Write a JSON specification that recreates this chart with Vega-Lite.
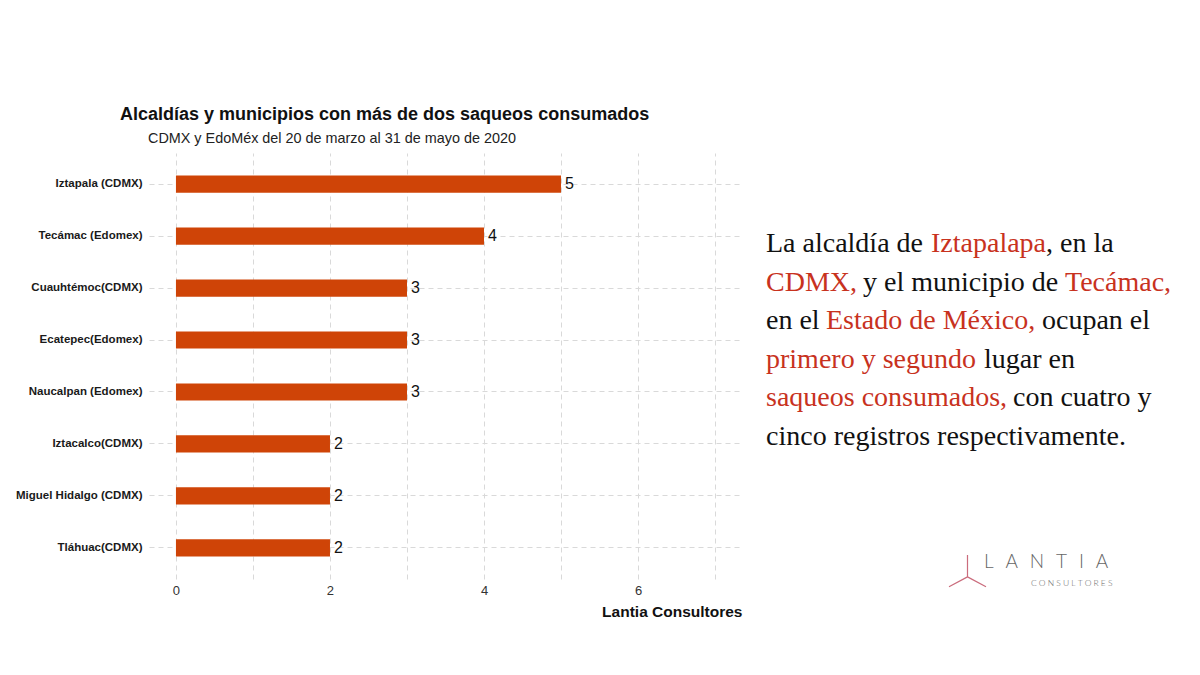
{
  "$schema": "https://vega.github.io/schema/vega-lite/v6.json",
  "background": "white",
  "padding": {"left": 15, "top": 105, "right": 0, "bottom": 0},
  "config": {
    "view": {"stroke": null},
    "font": "Liberation Sans"
  },
  "spacing": 20,
  "hconcat": [
    {
      "width": 593,
      "height": 426,
      "title": {
        "text": "Alcaldías y municipios con más de dos saqueos consumados",
        "subtitle": "\u200b\u00a0\u00a0\u00a0\u00a0\u00a0\u00a0\u00a0CDMX y EdoMéx del 20 de marzo al 31 de mayo de 2020",
        "anchor": "start",
        "frame": "group",
        "dx": -29,
        "fontSize": 18,
        "fontWeight": "bold",
        "color": "#111",
        "subtitleFontSize": 14.4,
        "subtitleColor": "#222",
        "subtitlePadding": 8,
        "offset": 8
      },
      "data": {
        "values": [
          {"lugar": "Iztapala (CDMX)", "saqueos": 5},
          {"lugar": "Tecámac (Edomex)", "saqueos": 4},
          {"lugar": "Cuauhtémoc(CDMX)", "saqueos": 3},
          {"lugar": "Ecatepec(Edomex)", "saqueos": 3},
          {"lugar": "Naucalpan (Edomex)", "saqueos": 3},
          {"lugar": "Iztacalco(CDMX)", "saqueos": 2},
          {"lugar": "Miguel Hidalgo (CDMX)", "saqueos": 2},
          {"lugar": "Tláhuac(CDMX)", "saqueos": 2}
        ]
      },
      "encoding": {
        "y": {
          "field": "lugar",
          "type": "nominal",
          "sort": null,
          "scale": {"paddingInner": 0, "paddingOuter": 0.1},
          "axis": {
            "title": null,
            "bandPosition": 0.5,
            "ticks": false,
            "domain": false,
            "labelFontSize": 11.5,
            "labelFontWeight": "bold",
            "labelColor": "#1a1a1a",
            "labelPadding": 7,
            "grid": true,
            "gridColor": "#d9d9d9",
            "gridDash": [5, 4]
          }
        },
        "x": {
          "field": "saqueos",
          "type": "quantitative",
          "scale": {"domain": [-0.35, 7.35], "nice": false, "zero": false},
          "axis": {
            "title": "Lantia Consultores",
            "titleAnchor": "end",
            "titleFontSize": 15.5,
            "titleFontWeight": "bold",
            "titleColor": "#111",
            "titlePadding": 7,
            "values": [0, 1, 2, 3, 4, 5, 6, 7],
            "labelExpr": "datum.value % 2 == 0 ? datum.label : ''",
            "labelFontSize": 13,
            "labelColor": "#333",
            "labelPadding": 5,
            "ticks": false,
            "domain": false,
            "grid": true,
            "gridColor": "#d9d9d9",
            "gridDash": [5, 4]
          }
        }
      },
      "layer": [
        {
          "mark": {"type": "bar", "color": "#CF4407", "height": {"band": 0.33}}
        },
        {
          "mark": {"type": "text", "align": "left", "baseline": "middle", "dx": 4, "fontSize": 16, "color": "#111"},
          "encoding": {"text": {"field": "saqueos", "type": "quantitative"}}
        }
      ]
    },
    {
      "width": 420,
      "height": 460,
      "layer": [
        {
          "data": {
            "values": [
              {"fila": 1, "x": 4, "texto": "La alcaldía de", "tipo": "normal"},
              {"fila": 1, "x": 169, "texto": "Iztapalapa", "tipo": "resaltado"},
              {"fila": 1, "x": 284, "texto": ", en la", "tipo": "normal"},
              {"fila": 2, "x": 4, "texto": "CDMX,", "tipo": "resaltado"},
              {"fila": 2, "x": 101, "texto": "y el municipio de", "tipo": "normal"},
              {"fila": 2, "x": 303, "texto": "Tecámac,", "tipo": "resaltado"},
              {"fila": 3, "x": 4, "texto": "en el", "tipo": "normal"},
              {"fila": 3, "x": 64, "texto": "Estado de México,", "tipo": "resaltado"},
              {"fila": 3, "x": 280, "texto": "ocupan el", "tipo": "normal"},
              {"fila": 4, "x": 4, "texto": "primero y segundo", "tipo": "resaltado"},
              {"fila": 4, "x": 222, "texto": "lugar en", "tipo": "normal"},
              {"fila": 5, "x": 4, "texto": "saqueos consumados,", "tipo": "resaltado"},
              {"fila": 5, "x": 251, "texto": "con cuatro y", "tipo": "normal"},
              {"fila": 6, "x": 4, "texto": "cinco registros respectivamente.", "tipo": "normal"}
            ]
          },
          "mark": {"type": "text", "align": "left", "baseline": "middle", "font": "Liberation Serif", "fontSize": 28},
          "encoding": {
            "x": {"field": "x", "type": "quantitative", "scale": {"domain": [0, 420], "nice": false, "zero": false}, "axis": null},
            "y": {"field": "fila", "type": "quantitative", "scale": {"domain": [-1.36, 10.56], "nice": false, "zero": false, "reverse": true}, "axis": null},
            "text": {"field": "texto"},
            "color": {
              "field": "tipo",
              "type": "nominal",
              "scale": {"domain": ["normal", "resaltado"], "range": ["#111111", "#C8321E"]},
              "legend": null
            }
          }
        },
        {
          "data": {
            "values": [
              {"fila": 9.24, "x": 222, "texto": "L\u2002\u2009A\u2002\u2009N\u2002\u2009T\u2002\u2009I\u2002\u2009A", "tam": "grande"},
              {"fila": 9.79, "x": 269, "texto": "C\u2005O\u2005N\u2005S\u2005U\u2005L\u2005T\u2005O\u2005R\u2005E\u2005S", "tam": "chico"}
            ]
          },
          "mark": {"type": "text", "align": "left", "baseline": "middle", "font": "Lato", "fontWeight": 300, "color": "#666"},
          "encoding": {
            "x": {"field": "x", "type": "quantitative"},
            "y": {"field": "fila", "type": "quantitative"},
            "text": {"field": "texto"},
            "size": {
              "field": "tam",
              "type": "nominal",
              "scale": {"domain": ["grande", "chico"], "range": [19, 8.5]},
              "legend": null
            }
          }
        },
        {
          "data": {"values": [{"fila": 9.47, "x": 205.5}]},
          "mark": {
            "type": "point",
            "shape": "M0,-0.86L0,0.32M0,0.32L-1,0.86M0,0.32L1,0.86",
            "size": 1369,
            "filled": false,
            "stroke": "#c25366",
            "strokeWidth": 1.2,
            "opacity": 0.85
          },
          "encoding": {
            "x": {"field": "x", "type": "quantitative"},
            "y": {"field": "fila", "type": "quantitative"}
          }
        }
      ]
    }
  ]
}
